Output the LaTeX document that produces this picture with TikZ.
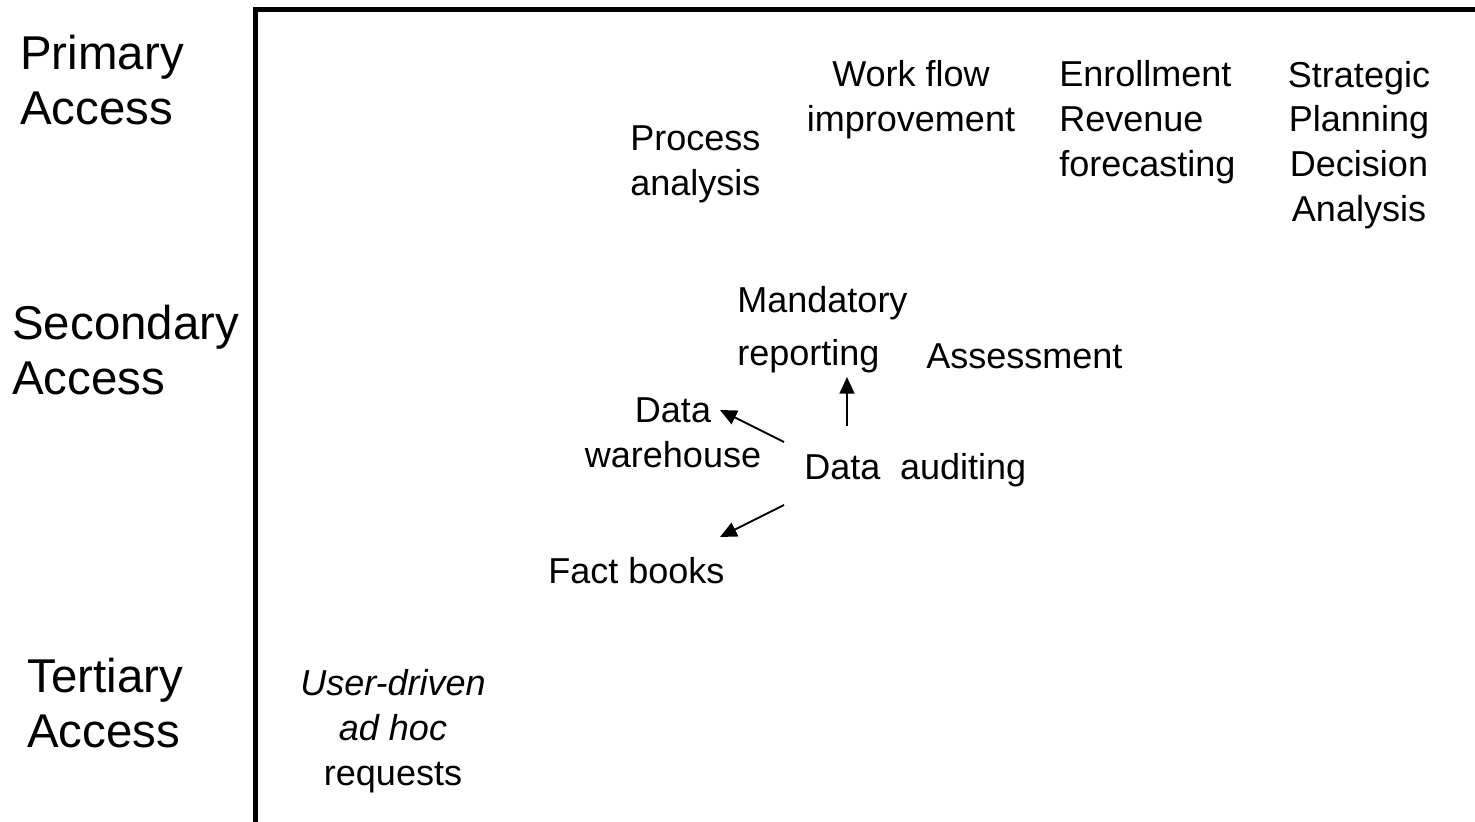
\documentclass[tikz,border=0pt]{standalone}
\usepackage{fontspec}
\setmainfont{Liberation Sans}
\usetikzlibrary{positioning, arrows.meta}

\begin{document}
\begin{tikzpicture}[x=0.02cm, y=-0.02cm]
	\tikzstyle{level} = [inner sep=0pt, anchor=west, align=left, font=\fontsize{27}{31}\selectfont]
	\tikzstyle{item} = [inner sep=0pt, font=\fontsize{20.5}{25.5}\selectfont]
	\tikzstyle{link} = [-{Triangle[length=9.5pt, width=8.5pt]}, line width=1.1pt]

	\useasboundingbox (0,0) rectangle (1475,822);

	% axes
	\draw [line width=3.4pt] (255.5,822) -- (255.5,9.5) -- (1475,9.5);

	% access levels
	\node [level] (primary) at (20,80) {Primary\\Access};
	\node [level] (secondary) at (12,350) {Secondary\\Access};
	\node [level] (tertiary) at (27,703) {Tertiary\\Access};

	% primary
	\node [item, align=center] (workflow) at (911,100) {Work flow\\improvement};
	\node [item, align=left, anchor=west] (enroll) at (1059,122) {Enrollment\\Revenue\\forecasting};
	\node [item, align=center] (strategic) at (1359,145) {Strategic\\Planning\\Decision\\Analysis};
	\node [item, align=left, anchor=west] (process) at (630,164) {Process\\analysis};

	% secondary
	\node [item, align=left, anchor=west, font=\fontsize{20.5}{30}\selectfont] (mandatory) at (737,330) {Mandatory\\reporting};
	\node [item, anchor=west] (assess) at (926,356) {Assessment};
	\node [item, align=center] (warehouse) at (673,433) {Data\\warehouse};
	\node [item, anchor=west] (audit) at (804,470) {Data\hspace{0.27em} auditing};
	\node [item, anchor=west] (fact) at (548,571) {Fact books};

	% tertiary
	\node [item, align=center] (user) at (393,731) {\textit{User-driven}\\\textit{ad hoc}\\requests};

	% arrows
	\coordinate (up0) at (847,426);
	\coordinate (up1) at (847,377);
	\coordinate (wh0) at (784,442);
	\coordinate (wh1) at (720,410);
	\coordinate (fb0) at (784,505);
	\coordinate (fb1) at (720,537);
	\draw [link] (up0) -- (up1);
	\draw [link] (wh0) -- (wh1);
	\draw [link] (fb0) -- (fb1);
\end{tikzpicture}
\end{document}
